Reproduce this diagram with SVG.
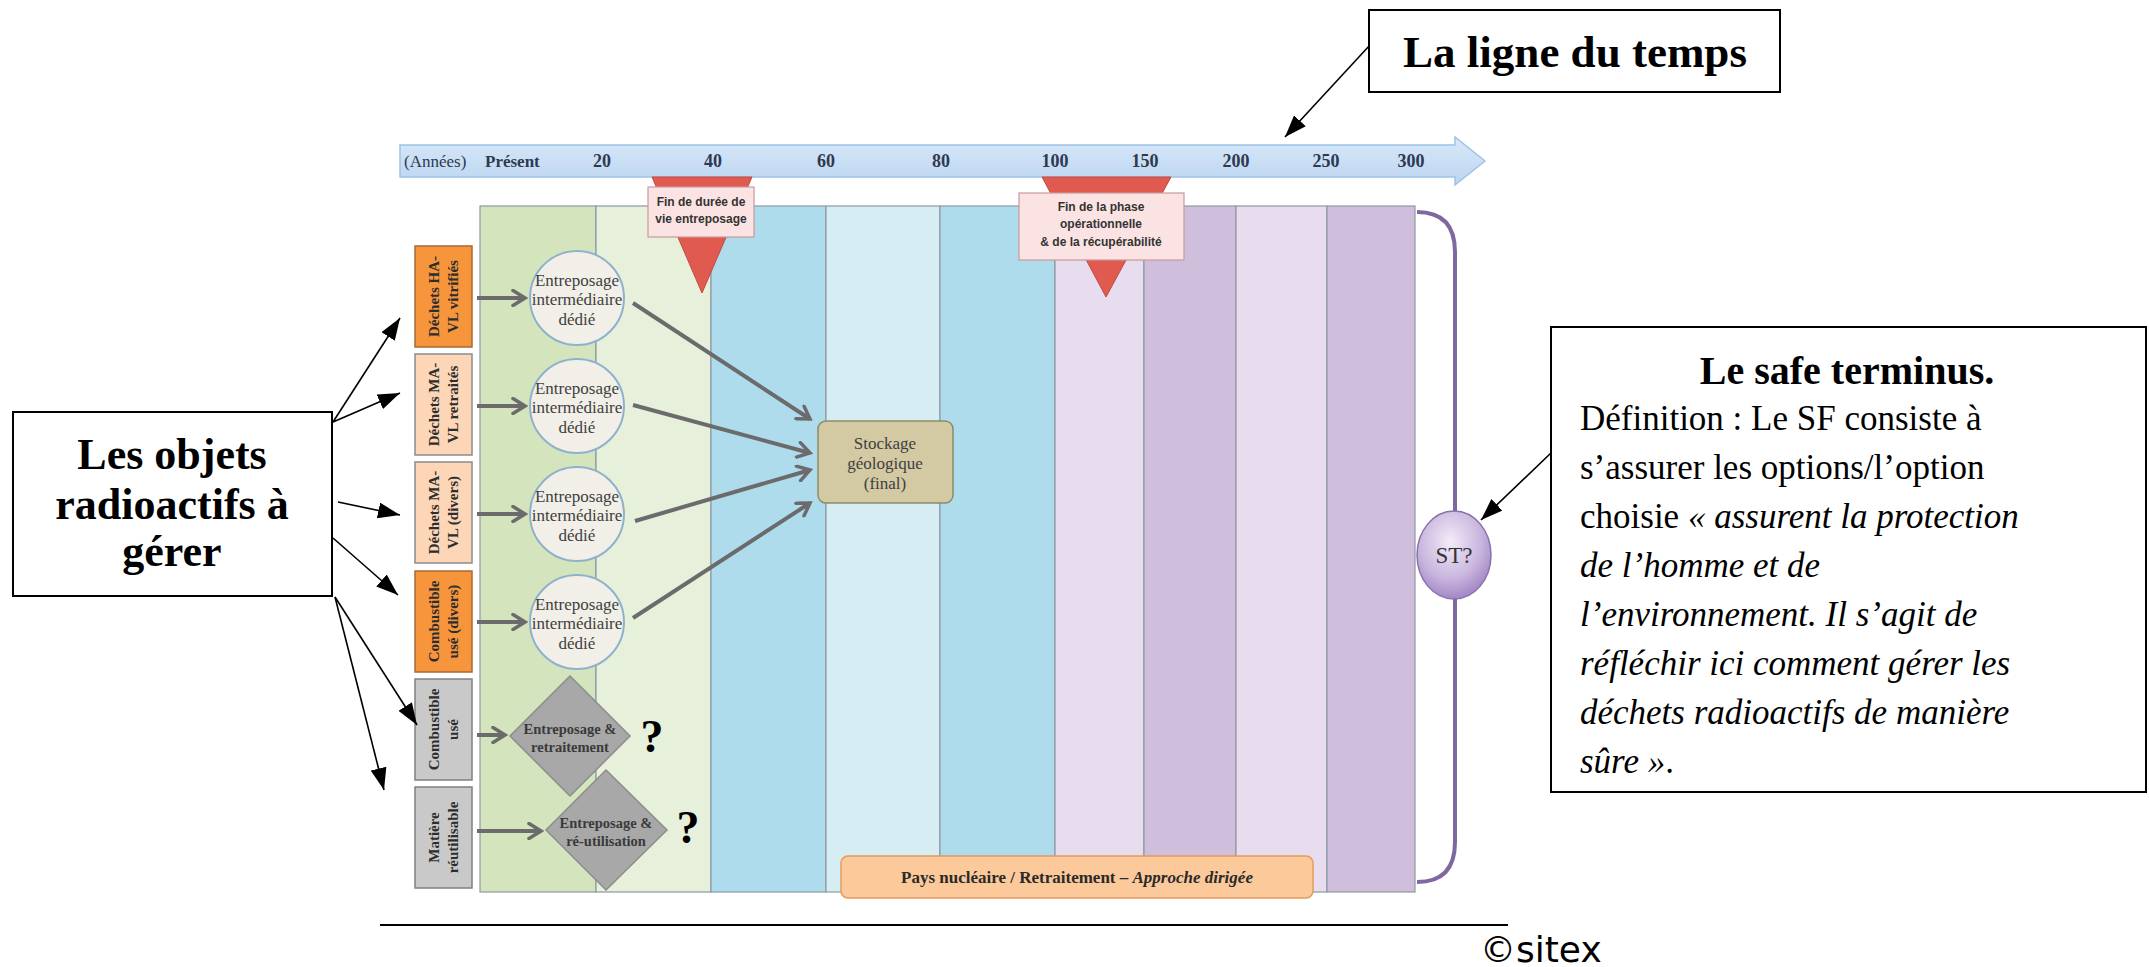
<svg xmlns="http://www.w3.org/2000/svg" width="2149" height="967" viewBox="0 0 2149 967">
<defs>
<style>
.serif{font-family:"Liberation Serif","Times New Roman",serif}
.sans{font-family:"Liberation Sans",Arial,sans-serif}
.col{stroke:#8d9aa3;stroke-width:1.2}
.cat{stroke-width:1.5}
.cattxt{font-family:"Liberation Serif",serif;font-weight:bold;font-size:15px;fill:#2d2d2d;text-anchor:middle}
.circ{fill:#f1efe8;stroke:#8eb2cc;stroke-width:2}
.circtxt{font-family:"Liberation Serif",serif;font-size:17px;fill:#3f3f3f;text-anchor:middle}
.dia{fill:#a8a8a8;stroke:#8c8c8c;stroke-width:1.5}
.diatxt{font-family:"Liberation Serif",serif;font-weight:bold;font-size:14.5px;fill:#3a3a3a;text-anchor:middle}
.garrow{stroke:#6b6b6b;stroke-width:4;fill:none;marker-end:url(#gh)}
.barr{stroke:#000;stroke-width:1.6;fill:none;marker-end:url(#bh)}
.ylab{font-family:"Liberation Serif",serif;font-weight:bold;font-size:18px;fill:#2e3a50;text-anchor:middle}
.mk{fill:#e05a50;stroke:#c04a42;stroke-width:1}
.mkbox{fill:#fbe3e3;stroke:#c99a9a;stroke-width:1.2}
.mktxt{font-family:"Liberation Sans",Arial,sans-serif;font-weight:bold;font-size:12px;fill:#333;text-anchor:middle}
.note{fill:#fff;stroke:#000;stroke-width:2}
.q{font-family:"Liberation Serif",serif;font-weight:bold;font-size:46px;fill:#000;text-anchor:middle}
</style>
<marker id="gh" viewBox="0 0 18 18" refX="15" refY="9" markerWidth="18" markerHeight="18" markerUnits="userSpaceOnUse" orient="auto">
<path d="M3,1.5 L15,9 L3,16.5" fill="none" stroke="#6b6b6b" stroke-width="3.5" stroke-linecap="round" stroke-linejoin="miter"/>
</marker>
<marker id="bh" viewBox="0 0 22 16" refX="22" refY="8" markerWidth="22" markerHeight="16" markerUnits="userSpaceOnUse" orient="auto">
<path d="M0,0 L22,8 L0,16 Z" fill="#000"/>
</marker>
<linearGradient id="barg" x1="0" y1="0" x2="0" y2="1">
<stop offset="0" stop-color="#d8e8f9"/>
<stop offset="1" stop-color="#bcd5f1"/>
</linearGradient>
<radialGradient id="stg" cx="0.45" cy="0.35" r="0.7">
<stop offset="0" stop-color="#f3ecf8"/>
<stop offset="0.6" stop-color="#c9b5de"/>
<stop offset="1" stop-color="#9a7ec0"/>
</radialGradient>
</defs>

<g id="timeline">
<path d="M400,145 L1455,145 L1455,137 L1485,161 L1455,185 L1455,177 L400,177 Z" fill="url(#barg)" stroke="#9dc3e6" stroke-width="1.5"/>
<text x="404" y="167" class="serif" font-size="17" fill="#2e3a50">(Années)</text>
<text x="485" y="167" class="serif" font-size="17" font-weight="bold" fill="#2e3a50">Présent</text>
<text x="602" y="167" class="ylab">20</text>
<text x="713" y="167" class="ylab">40</text>
<text x="826" y="167" class="ylab">60</text>
<text x="941" y="167" class="ylab">80</text>
<text x="1055" y="167" class="ylab">100</text>
<text x="1145" y="167" class="ylab">150</text>
<text x="1236" y="167" class="ylab">200</text>
<text x="1326" y="167" class="ylab">250</text>
<text x="1411" y="167" class="ylab">300</text>
</g>

<g id="columns">
<rect class="col" x="480" y="206" width="116" height="686" fill="#d4e5bd"/>
<rect class="col" x="596" y="206" width="115" height="686" fill="#e7f0db"/>
<rect class="col" x="711" y="206" width="115" height="686" fill="#aedced"/>
<rect class="col" x="826" y="206" width="114" height="686" fill="#d7edf4"/>
<rect class="col" x="940" y="206" width="115" height="686" fill="#aedced"/>
<rect class="col" x="1055" y="206" width="89" height="686" fill="#e7ddee"/>
<rect class="col" x="1144" y="206" width="92" height="686" fill="#cfbfdc"/>
<rect class="col" x="1236" y="206" width="91" height="686" fill="#e7ddee"/>
<rect class="col" x="1327" y="206" width="88" height="686" fill="#cfbfdc"/>
</g>

<g id="marker-entreposage">
<polygon class="mk" points="652,177 752,177 702,293"/>
<rect class="mkbox" x="648" y="187" width="106" height="50"/>
<text class="mktxt" x="701" y="206">Fin de durée de</text>
<text class="mktxt" x="701" y="223">vie entreposage</text>
</g>

<g id="marker-operationnelle">
<polygon class="mk" points="1042,177 1171,177 1106,297"/>
<rect class="mkbox" x="1019" y="193" width="165" height="67"/>
<text class="mktxt" x="1101" y="211">Fin de la phase</text>
<text class="mktxt" x="1101" y="228">opérationnelle</text>
<text class="mktxt" x="1101" y="246">&amp; de la récupérabilité</text>
</g>

<g id="bracket">
<path d="M1417,212 Q1455,212 1455,252 L1455,842 Q1455,882 1417,882" fill="none" stroke="#7f68a0" stroke-width="4"/>
</g>

<g id="cat1">
<rect class="cat" x="415" y="246" width="57" height="101" fill="#f7953d" stroke="#a86a35"/>
<g transform="translate(443.5,296.5) rotate(-90)"><text class="cattxt" x="0" y="-5">Déchets HA-</text><text class="cattxt" x="0" y="14">VL vitrifiés</text></g>
</g>
<g id="cat2">
<rect class="cat" x="415" y="354" width="57" height="101" fill="#fcd6b6" stroke="#8c8c8c"/>
<g transform="translate(443.5,404.5) rotate(-90)"><text class="cattxt" x="0" y="-5">Déchets MA-</text><text class="cattxt" x="0" y="14">VL retraités</text></g>
</g>
<g id="cat3">
<rect class="cat" x="415" y="462" width="57" height="101" fill="#fcd6b6" stroke="#8c8c8c"/>
<g transform="translate(443.5,512.5) rotate(-90)"><text class="cattxt" x="0" y="-5">Déchets MA-</text><text class="cattxt" x="0" y="14">VL (divers)</text></g>
</g>
<g id="cat4">
<rect class="cat" x="415" y="571" width="57" height="101" fill="#f7953d" stroke="#a86a35"/>
<g transform="translate(443.5,621.5) rotate(-90)"><text class="cattxt" x="0" y="-5">Combustible</text><text class="cattxt" x="0" y="14">usé (divers)</text></g>
</g>
<g id="cat5">
<rect class="cat" x="415" y="679" width="57" height="101" fill="#c9c9c9" stroke="#808080"/>
<g transform="translate(443.5,729.5) rotate(-90)"><text class="cattxt" x="0" y="-5">Combustible</text><text class="cattxt" x="0" y="14">usé</text></g>
</g>
<g id="cat6">
<rect class="cat" x="415" y="787" width="57" height="101" fill="#c9c9c9" stroke="#808080"/>
<g transform="translate(443.5,837.5) rotate(-90)"><text class="cattxt" x="0" y="-5">Matière</text><text class="cattxt" x="0" y="14">réutilisable</text></g>
</g>

<g id="connectors">
<line class="garrow" x1="477" y1="298" x2="525" y2="298"/>
<line class="garrow" x1="477" y1="406" x2="525" y2="406"/>
<line class="garrow" x1="477" y1="514" x2="525" y2="514"/>
<line class="garrow" x1="477" y1="622" x2="525" y2="622"/>
<line class="garrow" x1="477" y1="735" x2="505" y2="735"/>
<line class="garrow" x1="477" y1="831" x2="541" y2="831"/>
<line class="garrow" x1="633" y1="303" x2="810" y2="419"/>
<line class="garrow" x1="633" y1="405" x2="810" y2="453"/>
<line class="garrow" x1="635" y1="521" x2="810" y2="470"/>
<line class="garrow" x1="633" y1="618" x2="810" y2="503"/>
<line class="barr" x1="333" y1="422" x2="400" y2="318"/>
<line class="barr" x1="333" y1="422" x2="400" y2="393"/>
<line class="barr" x1="338" y1="502" x2="400" y2="515"/>
<line class="barr" x1="333" y1="538" x2="398" y2="595"/>
<line class="barr" x1="335" y1="597" x2="417" y2="725"/>
<line class="barr" x1="335" y1="597" x2="384" y2="790"/>
<line class="barr" x1="1370" y1="45" x2="1285" y2="137"/>
<line class="barr" x1="1552" y1="452" x2="1481" y2="520"/>
</g>

<g id="ei1"><circle class="circ" cx="577" cy="298" r="47"/>
<text class="circtxt" x="577" y="286">Entreposage</text><text class="circtxt" x="577" y="305">intermédiaire</text><text class="circtxt" x="577" y="325">dédié</text></g>
<g id="ei2"><circle class="circ" cx="577" cy="406" r="47"/>
<text class="circtxt" x="577" y="394">Entreposage</text><text class="circtxt" x="577" y="413">intermédiaire</text><text class="circtxt" x="577" y="433">dédié</text></g>
<g id="ei3"><circle class="circ" cx="577" cy="514" r="47"/>
<text class="circtxt" x="577" y="502">Entreposage</text><text class="circtxt" x="577" y="521">intermédiaire</text><text class="circtxt" x="577" y="541">dédié</text></g>
<g id="ei4"><circle class="circ" cx="577" cy="622" r="47"/>
<text class="circtxt" x="577" y="610">Entreposage</text><text class="circtxt" x="577" y="629">intermédiaire</text><text class="circtxt" x="577" y="649">dédié</text></g>

<g id="retraitement"><polygon class="dia" points="570,676 630,736 570,796 510,736"/>
<text class="diatxt" x="570" y="734">Entreposage &amp;</text><text class="diatxt" x="570" y="752">retraitement</text>
<text class="q" x="652" y="752">?</text></g>
<g id="reutilisation"><polygon class="dia" points="606,770 667,830 606,890 546,830"/>
<text class="diatxt" x="606" y="828">Entreposage &amp;</text><text class="diatxt" x="606" y="846">ré-utilisation</text>
<text class="q" x="688" y="843">?</text></g>

<g id="stockage"><rect x="818" y="421" width="135" height="82" rx="8" fill="#d3c9a3" stroke="#8c8a6a" stroke-width="1.5"/>
<text class="circtxt" x="885" y="449">Stockage</text><text class="circtxt" x="885" y="469">géologique</text><text class="circtxt" x="885" y="489">(final)</text></g>

<g id="pays"><rect x="841" y="856" width="472" height="42" rx="7" fill="#fcc99a" stroke="#e59a5e" stroke-width="1.5"/>
<text x="1077" y="883" class="serif" font-size="17" font-weight="bold" fill="#2a2a2a" text-anchor="middle">Pays nucléaire / Retraitement – <tspan font-style="italic">Approche dirigée</tspan></text></g>

<g id="st"><ellipse cx="1454" cy="555" rx="37" ry="44" fill="url(#stg)" stroke="#8a70ad" stroke-width="1.5"/>
<text x="1454" y="563" class="serif" font-size="23" fill="#333" text-anchor="middle">ST?</text></g>

<g id="ligne-temps"><rect class="note" x="1369" y="10" width="411" height="82"/>
<text x="1575" y="67" class="serif" font-size="45" font-weight="bold" text-anchor="middle">La ligne du temps</text></g>

<g id="objets"><rect class="note" x="13" y="412" width="319" height="184"/>
<text x="172" y="469" class="serif" font-size="44" font-weight="bold" text-anchor="middle">Les objets</text>
<text x="172" y="519" class="serif" font-size="44" font-weight="bold" text-anchor="middle">radioactifs à</text>
<text x="172" y="566" class="serif" font-size="44" font-weight="bold" text-anchor="middle">gérer</text></g>

<g id="safe-terminus"><rect class="note" x="1551" y="327" width="595" height="465"/>
<text x="1847" y="384" class="serif" font-size="40" font-weight="bold" text-anchor="middle">Le safe terminus.</text>
<g class="serif" font-size="35">
<text x="1580" y="430">Définition : Le SF consiste à</text>
<text x="1580" y="479">s’assurer les options/l’option</text>
<text x="1580" y="528">choisie <tspan font-style="italic">« assurent la protection</tspan></text>
<text x="1580" y="577" font-style="italic">de l’homme et de</text>
<text x="1580" y="626" font-style="italic">l’environnement. Il s’agit de</text>
<text x="1580" y="675" font-style="italic">réfléchir ici comment gérer les</text>
<text x="1580" y="724" font-style="italic">déchets radioactifs de manière</text>
<text x="1580" y="773" font-style="italic">sûre »<tspan font-style="normal">.</tspan></text>
</g></g>

<g id="footer"><line x1="380" y1="925" x2="1508" y2="925" stroke="#000" stroke-width="2"/>
<text x="1480" y="962" font-family="DejaVu Sans,sans-serif" font-size="36" fill="#000">©sitex</text></g>
</svg>
